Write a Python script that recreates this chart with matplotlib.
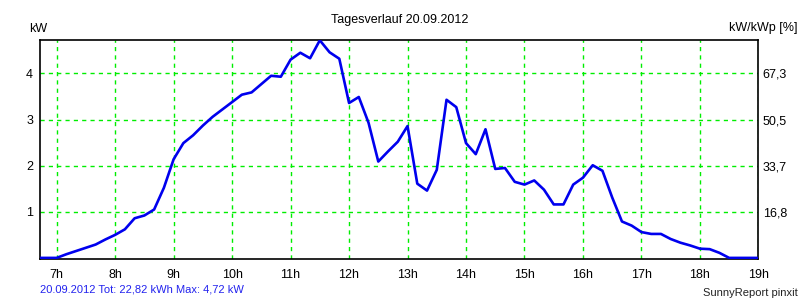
import matplotlib
matplotlib.use('Agg')
import matplotlib.pyplot as plt

plt.rcParams['font.family'] = ['Liberation Sans', 'DejaVu Sans']

# 10-minute samples, 6:40 .. 19:00
leistung = [0, 0, 0, 0.08, 0.15, 0.22, 0.29, 0.40, 0.50, 0.62, 0.86, 0.92, 1.05, 1.52,
            2.14, 2.49, 2.66, 2.87, 3.06, 3.22, 3.38, 3.54, 3.59, 3.77, 3.95, 3.93,
            4.30, 4.45, 4.33, 4.72, 4.46, 4.32, 3.36, 3.49, 2.93, 2.09, 2.31, 2.52,
            2.86, 1.61, 1.46, 1.91, 3.43, 3.27, 2.49, 2.25, 2.79, 1.93, 1.95, 1.65,
            1.59, 1.68, 1.48, 1.16, 1.16, 1.59, 1.74, 2.01, 1.89, 1.31, 0.79, 0.70,
            0.56, 0.52, 0.52, 0.41, 0.33, 0.27, 0.20, 0.19, 0.11, 0, 0, 0, 0]
zeiten = [6 + 40/60 + i/6 for i in range(len(leistung))]

stunden = list(range(7, 20))
stunden_labels = [f'{h}h' for h in stunden]
kw_ticks = [1, 2, 3, 4]
prozent_labels = ['16,8', '33,7', '50,5', '67,3']

fig = plt.figure(figsize=(8, 3), dpi=100)
ax = fig.add_axes([0.05, 0.1357, 0.898, 0.73])

ax.plot(zeiten, leistung, color='#0000ee', lw=1.9, zorder=3)

ax.set_xlim(6.715, 19)
ax.set_ylim(-0.03, 4.72)
ax.set_xticks(stunden)
ax.set_xticklabels(stunden_labels)
ax.set_yticks(kw_ticks)
ax.grid(True, color='#00ee00', linestyle=(0, (3, 3)), lw=1)
ax.tick_params(axis='x', length=0, labelsize=9, pad=7)
ax.tick_params(axis='y', length=0, labelsize=9, pad=5)
for s in ax.spines.values():
    s.set_color('black')
    s.set_linewidth(1.2)

ax2 = ax.twinx()
ax2.set_ylim(ax.get_ylim())
ax2.set_yticks(kw_ticks)
ax2.set_yticklabels(prozent_labels)
ax2.tick_params(length=0, labelsize=9, pad=3)
for s in ax2.spines.values():
    s.set_visible(False)

fig.text(0.5, 0.935, 'Tagesverlauf 20.09.2012', ha='center', va='center', fontsize=9)
fig.text(0.037, 0.905, 'kW', ha='left', va='center', fontsize=9)
fig.text(0.997, 0.905, 'kW/kWp [%]', ha='right', va='center', fontsize=9)
fig.text(0.05, 0.035, '20.09.2012 Tot: 22,82 kWh Max: 4,72 kW', ha='left', va='center',
         fontsize=8, color='#2222ee')
fig.text(0.997, 0.025, 'SunnyReport pinxit', ha='right', va='center', fontsize=8, color='#222222')

plt.savefig('out.png', dpi=100)
